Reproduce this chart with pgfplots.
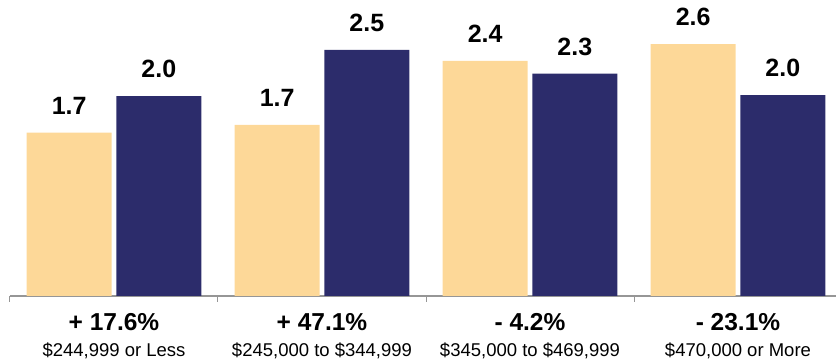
\documentclass[border=0pt]{standalone}
\usepackage{fontspec}
\setmainfont{Liberation Sans}
\usepackage{pgfplots}
\pgfplotsset{compat=1.18}
\definecolor{peach}{RGB}{253,216,152}
\definecolor{navy}{RGB}{44,44,107}
\definecolor{axgray}{RGB}{150,150,150}
\begin{document}
\begin{tikzpicture}
\begin{axis}[
 scale only axis, width=832pt, height=296pt,
 xmin=-0.5, xmax=3.5, ymin=0, ymax=3.008,
 ybar=4.6pt, bar width=85pt,
 axis x line=bottom, axis y line=none,
 x axis line style={-, draw=axgray, line width=1.3pt},
 xtick={0,1,2,3}, major tick length=0pt,
 major x tick style={draw=none},
 minor xtick={-0.5,0.5,1.5,2.5,3.5},
 minor x tick style={draw=axgray, line width=1pt}, minor tick length=6pt, tick align=outside,
 xticklabels={
  {{\fontsize{24.5}{26}\selectfont\bfseries + 17.6\%}\\\$244,999 or Less},
  {{\fontsize{24.5}{26}\selectfont\bfseries + 47.1\%}\\\$245,000 to \$344,999},
  {{\fontsize{24.5}{26}\selectfont\bfseries - 4.2\%}\\\$345,000 to \$469,999},
  {{\fontsize{24.5}{26}\selectfont\bfseries - 23.1\%}\\\$470,000 or More}},
 xticklabel style={align=center, anchor=north, inner sep=0pt, yshift=-17pt, font=\fontsize{18.5}{26}\selectfont},
 point meta=explicit symbolic,
 nodes near coords,
 every node near coord/.append style={font=\fontsize{25}{25}\selectfont\bfseries, inner sep=0pt, yshift=18pt},
 clip=false,
]
\addplot[fill=peach, draw=none] coordinates {(0,1.66)[1.7] (1,1.74)[1.7] (2,2.39)[2.4] (3,2.56)[2.6]};
\addplot[fill=navy, draw=none] coordinates {(0,2.03)[2.0] (1,2.50)[2.5] (2,2.26)[2.3] (3,2.04)[2.0]};
\end{axis}
\pgfresetboundingbox
\path[use as bounding box] (-10pt,-67pt) rectangle (826pt,296pt);
\end{tikzpicture}
\end{document}
